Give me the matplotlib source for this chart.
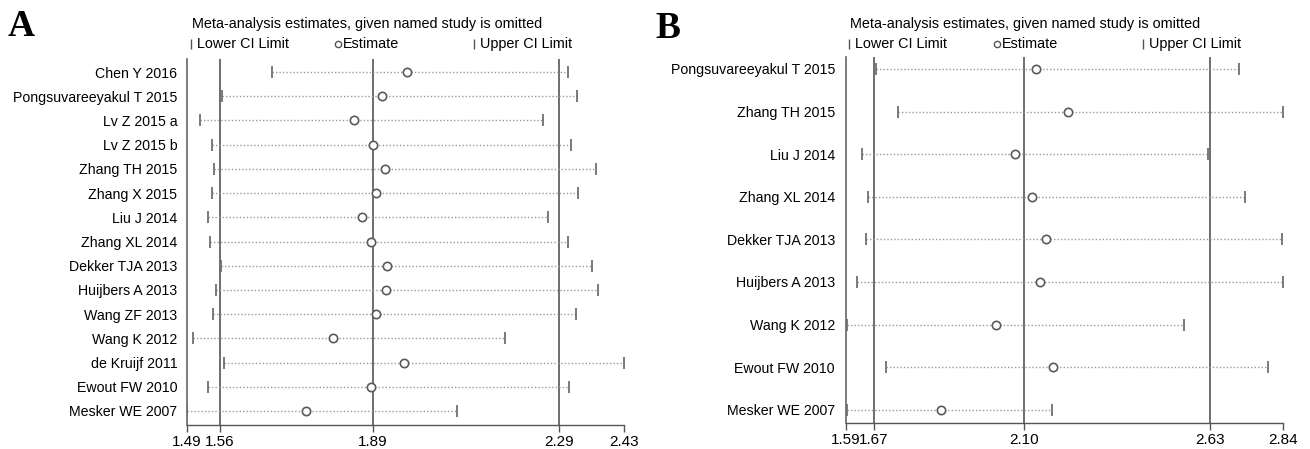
import matplotlib
matplotlib.use("Agg")
import matplotlib.pyplot as plt
from matplotlib.lines import Line2D

plt.rcParams['font.family'] = ['Liberation Sans', 'DejaVu Sans']

W, H = 1310, 449

# Panel A data
labels_a = ["Chen Y 2016", "Pongsuvareeyakul T 2015", "Lv Z 2015 a", "Lv Z 2015 b",
            "Zhang TH 2015", "Zhang X 2015", "Liu J 2014", "Zhang XL 2014",
            "Dekker TJA 2013", "Huijbers A 2013", "Wang ZF 2013", "Wang K 2012",
            "de Kruijf 2011", "Ewout FW 2010", "Mesker WE 2007"]
est_a = [1.964, 1.909, 1.850, 1.890, 1.915, 1.897, 1.866, 1.886,
         1.920, 1.918, 1.897, 1.805, 1.957, 1.885, 1.747]
low_a = [1.673, 1.565, 1.518, 1.543, 1.548, 1.543, 1.535, 1.539,
         1.563, 1.552, 1.547, 1.502, 1.570, 1.536, 1.490]
up_a = [2.309, 2.328, 2.256, 2.316, 2.370, 2.330, 2.267, 2.309,
        2.361, 2.373, 2.326, 2.175, 2.430, 2.311, 2.071]
ref_a = [1.56, 1.89, 2.29]
ticks_a = [1.49, 1.56, 1.89, 2.29, 2.43]

# Panel B data
labels_b = ["Pongsuvareeyakul T 2015", "Zhang TH 2015", "Liu J 2014", "Zhang XL 2014",
            "Dekker TJA 2013", "Huijbers A 2013", "Wang K 2012", "Ewout FW 2010",
            "Mesker WE 2007"]
est_b = [2.133, 2.224, 2.073, 2.123, 2.161, 2.146, 2.018, 2.182, 1.863]
low_b = [1.676, 1.738, 1.637, 1.654, 1.648, 1.622, 1.592, 1.704, 1.592]
up_b = [2.714, 2.840, 2.626, 2.732, 2.838, 2.840, 2.558, 2.797, 2.179]
ref_b = [1.67, 2.10, 2.63]
ticks_b = [1.59, 1.67, 2.10, 2.63, 2.84]


def fx(x):
    return x / W

def fy(y):
    return 1 - y / H


fig = plt.figure(figsize=(W / 100, H / 100), dpi=100)


def draw_panel(rect, labels, est, low, up, ref, ticks, ypad, lpad):
    ax = fig.add_axes(rect)
    n = len(labels)
    ys = list(range(n))
    for r in ref:
        ax.axvline(r, color='#555555', lw=1.2, zorder=1)
    for y, lo, hi in zip(ys, low, up):
        ax.plot([lo, hi], [y, y], ls=(0, (1, 1.5)), color='#9a9a9a', lw=1.0, zorder=2)
    ax.plot(low, ys, ls='none', marker='|', ms=9, mew=1.3, color='#707070', zorder=3)
    ax.plot(up, ys, ls='none', marker='|', ms=9, mew=1.3, color='#707070', zorder=3)
    ax.plot(est, ys, ls='none', marker='o', ms=6, mfc='white', mec='#5a5a5a',
            mew=1.2, zorder=4)
    ax.set_xlim(ticks[0], ticks[-1])
    ax.set_ylim(n - 1 + ypad[1], -ypad[0])
    ax.set_xticks(ticks)
    ax.set_xticklabels(["%.2f" % t for t in ticks], fontsize=11)
    ax.set_yticks(ys)
    ax.set_yticklabels(labels, fontsize=10.2)
    ax.tick_params(axis='y', length=0, pad=lpad)
    ax.tick_params(axis='x', length=5, width=1, color='#555555', pad=2)
    for s in ['top', 'right']:
        ax.spines[s].set_visible(False)
    ax.spines['left'].set_color('#666666')
    ax.spines['bottom'].set_color('#555555')
    ax.spines['left'].set_linewidth(1.2)
    ax.spines['bottom'].set_linewidth(1.0)
    return ax


ax_a = draw_panel([fx(187), fy(425), fx(624) - fx(187), fy(59) - fy(425)],
                  labels_a, est_a, low_a, up_a, ref_a, ticks_a, (0.54, 0.58), 7)
ax_b = draw_panel([fx(846), fy(423), fx(1283) - fx(846), fy(57) - fy(423)],
                  labels_b, est_b, low_b, up_b, ref_b, ticks_b, (0.28, 0.31), 8)


def header(x0, bar1, circ, bar2):
    fig.text(fx(x0), fy(24), "Meta-analysis estimates, given named study is omitted",
             fontsize=10.4, va='center', ha='left')
    yl = fy(44)
    fig.add_artist(Line2D([fx(bar1)], [yl], marker='|', ms=7, mew=1, color='#555555'))
    fig.text(fx(bar1 + 6), yl, "Lower CI Limit", fontsize=10.4, va='center', ha='left')
    fig.add_artist(Line2D([fx(circ)], [yl], marker='o', ms=4.5, mfc='white',
                          mec='#555555', mew=1))
    fig.text(fx(circ + 5), yl, "Estimate", fontsize=10.4, va='center', ha='left')
    fig.add_artist(Line2D([fx(bar2)], [yl], marker='|', ms=7, mew=1, color='#555555'))
    fig.text(fx(bar2 + 6), yl, "Upper CI Limit", fontsize=10.4, va='center', ha='left')


header(192, 191, 338, 474)
header(850, 849, 997, 1143)

fig.text(fx(8), fy(26), "A", fontsize=27, fontweight='bold',
         family=['Liberation Serif', 'DejaVu Serif'], va='center', ha='left')
fig.text(fx(655), fy(28), "B", fontsize=27, fontweight='bold',
         family=['Liberation Serif', 'DejaVu Serif'], va='center', ha='left')

fig.savefig("out.png", dpi=100, facecolor='white')
